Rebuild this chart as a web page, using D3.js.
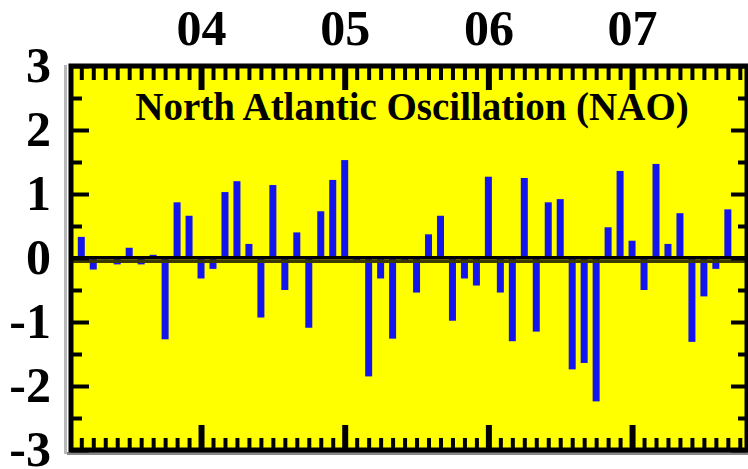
<!DOCTYPE html>
<html>
<head>
<meta charset="utf-8">
<script src="https://cdn.jsdelivr.net/npm/d3@7"></script>
<style>
  html, body { margin: 0; padding: 0; background: #fff; }
  svg { display: block; }
  text { font-family: "Liberation Serif", "Times New Roman", serif; font-weight: bold; fill: #000; }
</style>
</head>
<body>
<svg id="chart" width="748" height="469"></svg>
<script>
// ---- data ----
const months = [
  "2003-03","2003-04","2003-05","2003-06","2003-07","2003-08","2003-09","2003-10","2003-11","2003-12",
  "2004-01","2004-02","2004-03","2004-04","2004-05","2004-06","2004-07","2004-08","2004-09","2004-10","2004-11","2004-12",
  "2005-01","2005-02","2005-03","2005-04","2005-05","2005-06","2005-07","2005-08","2005-09","2005-10","2005-11","2005-12",
  "2006-01","2006-02","2006-03","2006-04","2006-05","2006-06","2006-07","2006-08","2006-09","2006-10","2006-11","2006-12",
  "2007-01","2007-02","2007-03","2007-04","2007-05","2007-06","2007-07","2007-08","2007-09"
];
const naoValues = [
  0.33, -0.18, -0.02, -0.10, 0.16, -0.10, 0.05, -1.27, 0.87, 0.66,
  -0.32, -0.17, 1.03, 1.20, 0.22, -0.93, 1.14, -0.50, 0.40, -1.09, 0.73, 1.22,
  1.53, -0.06, -1.85, -0.32, -1.26, -0.06, -0.54, 0.37, 0.66, -0.98, -0.32, -0.43,
  1.27, -0.54, -1.30, 1.25, -1.15, 0.87, 0.92, -1.74, -1.64, -2.24, 0.48, 1.36,
  0.27, -0.50, 1.47, 0.22, 0.70, -1.31, -0.60, -0.17, 0.76
];
const yearTicks = [2004, 2005, 2006, 2007];
const yearLabels = ["04", "05", "06", "07"];
const yTicks = [-3, -2, -1, 0, 1, 2, 3];
const yMinorTicks = [-2.5, -1.5, -0.5, 0.5, 1.5, 2.5];
const title = "North Atlantic Oscillation (NAO)";

// decimal year helper
const toYear = s => { const [y, m] = s.split("-").map(Number); return y + (m - 1) / 12; };
const data = months.map((m, i) => ({ t: toYear(m), v: naoValues[i] }));

// month ticks from Mar 2003 to Oct 2007
const monthTicks = [];
for (let i = 2; i <= 57; i++) monthTicks.push(2003 + i / 12);
const minorMonthTicks = monthTicks.filter(t => Math.abs(t - Math.round(t)) > 1e-6);

// ---- layout ----
const L = 71, R = 747, T = 66, B = 450;
const svg = d3.select("#chart");

const x = d3.scaleLinear().domain([2003.095, 2007.80]).range([L, R]);
const y = d3.scaleLinear().domain([-3, 3]).range([B, T]);

// shadow lines
svg.append("line").attr("x1", 65.5).attr("x2", 65.5).attr("y1", T - 1).attr("y2", B + 4)
  .attr("stroke", "#b8b8b8").attr("stroke-width", 3);
svg.append("line").attr("x1", L - 4).attr("x2", 748).attr("y1", B + 3.5).attr("y2", B + 3.5)
  .attr("stroke", "#888").attr("stroke-width", 3);

// plot background
svg.append("rect").attr("x", L).attr("y", T).attr("width", R - L).attr("height", B - T)
  .attr("fill", "#ffff00");

// bars
const bw = 7;
svg.append("g").selectAll("rect").data(data).join("rect")
  .attr("x", d => x(d.t) - bw / 2)
  .attr("width", bw)
  .attr("y", d => Math.min(y(d.v), y(0)))
  .attr("height", d => Math.abs(y(d.v) - y(0)))
  .attr("fill", "#1414ee");

// zero line
const y0 = y(0);
svg.append("rect").attr("x", L).attr("width", R - L).attr("y", y0 - 2).attr("height", 3.5).attr("fill", "#000");
svg.append("rect").attr("x", L).attr("width", R - L).attr("y", y0 + 1.5).attr("height", 3.5).attr("fill", "#3a3a00");

// axes helper
function styleAxis(g, w) {
  g.select(".domain").remove();
  g.selectAll(".tick line").attr("stroke", "#000").attr("stroke-width", w);
  g.selectAll("text").attr("fill", "#000").attr("font-size", 50)
    .attr("font-family", '"Liberation Serif", "Times New Roman", serif').attr("font-weight", "bold");
}

// top minor ticks
svg.append("g").attr("transform", `translate(0,${T})`)
  .call(d3.axisTop(x).tickValues(minorMonthTicks).tickSize(-14).tickFormat(""))
  .call(g => styleAxis(g, 4));
// bottom minor ticks
svg.append("g").attr("transform", `translate(0,${B})`)
  .call(d3.axisBottom(x).tickValues(minorMonthTicks).tickSize(-12).tickFormat(""))
  .call(g => styleAxis(g, 4));
// top major ticks with labels
svg.append("g").attr("transform", `translate(0,${T})`)
  .call(d3.axisTop(x).tickValues(yearTicks).tickSize(-24).tickPadding(21)
    .tickFormat((d, i) => yearLabels[i]))
  .call(g => styleAxis(g, 6))
  .call(g => g.selectAll("text").attr("dy", "0"));
// bottom major ticks
svg.append("g").attr("transform", `translate(0,${B})`)
  .call(d3.axisBottom(x).tickValues(yearTicks).tickSize(-25).tickFormat(""))
  .call(g => styleAxis(g, 6));

// left major ticks with labels
svg.append("g").attr("transform", `translate(${L},0)`)
  .call(d3.axisLeft(y).tickValues(yTicks).tickSize(-18).tickPadding(20).tickFormat(d => String(d).replace("\u2212", "-")))
  .call(g => styleAxis(g, 4))
  .call(g => g.selectAll("text").attr("dy", "15px"));
// left minor
svg.append("g").attr("transform", `translate(${L},0)`)
  .call(d3.axisLeft(y).tickValues(yMinorTicks).tickSize(-11).tickFormat(""))
  .call(g => styleAxis(g, 4));
// right major
svg.append("g").attr("transform", `translate(${R},0)`)
  .call(d3.axisRight(y).tickValues(yTicks).tickSize(-16).tickFormat(""))
  .call(g => styleAxis(g, 4));
// right minor
svg.append("g").attr("transform", `translate(${R},0)`)
  .call(d3.axisRight(y).tickValues(yMinorTicks).tickSize(-9).tickFormat(""))
  .call(g => styleAxis(g, 4));

// frame
svg.append("rect").attr("x", L).attr("y", T).attr("width", R - L).attr("height", B - T)
  .attr("fill", "none").attr("stroke", "#000").attr("stroke-width", 5);

// title
svg.append("text").attr("x", 412).attr("y", 120).attr("text-anchor", "middle")
  .attr("font-size", 39).text(title);
</script>
</body>
</html>
